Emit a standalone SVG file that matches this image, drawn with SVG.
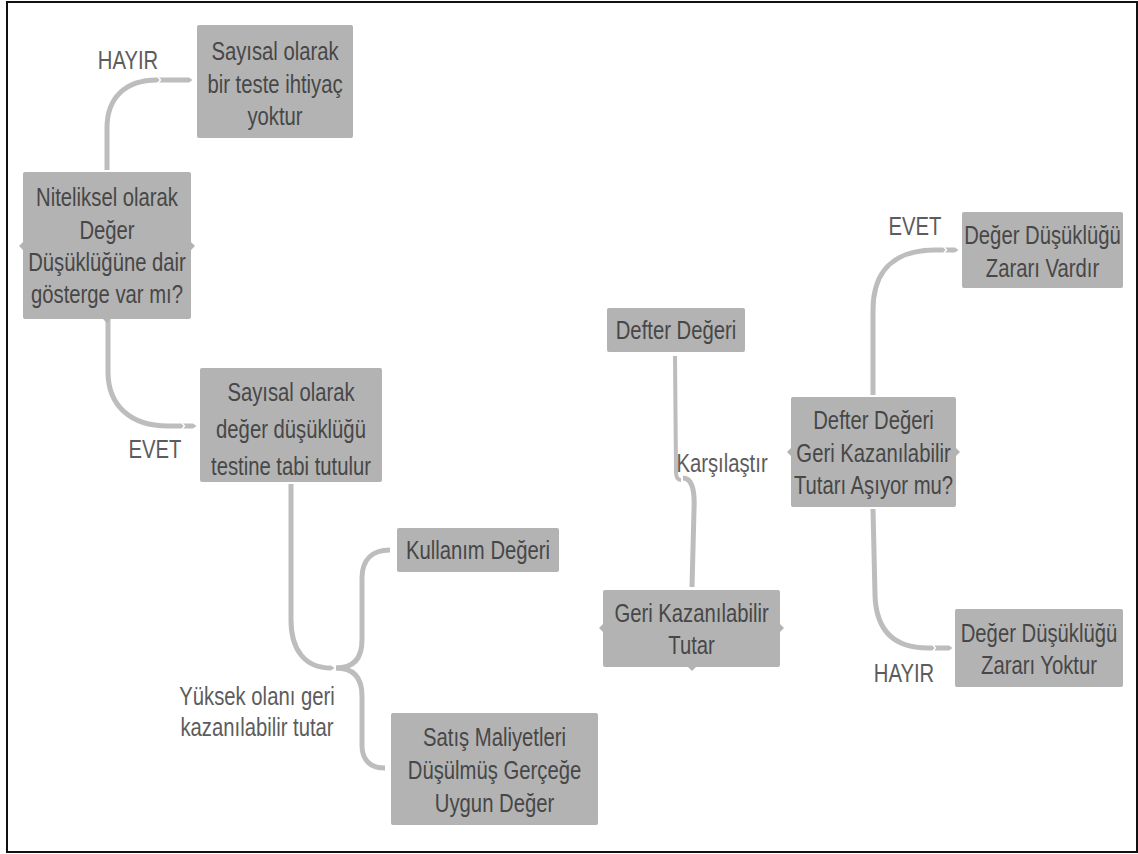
<svg xmlns="http://www.w3.org/2000/svg" width="1138" height="854" viewBox="0 0 1138 854">
<style>
.n{fill:#b3b3b3;}
.t,.l{font-family:"Liberation Sans",Arial,sans-serif;font-size:26px;text-anchor:middle;transform-box:fill-box;transform-origin:center;transform:scaleX(0.78);}
.t{fill:#474747;}
.l{fill:#5c5c5c;}
.c{fill:none;stroke:#bdbdbd;stroke-width:5;stroke-linecap:butt;}
.cv{fill:none;stroke:#ffffff;stroke-width:1.4;}
</style>
<defs>
<marker id="tip" markerUnits="userSpaceOnUse" markerWidth="10" markerHeight="10" refX="0" refY="0" orient="auto" overflow="visible">
<path d="M0,-2.5 L3.5,0 L0,2.5 Z" fill="#bdbdbd"/>
</marker>
<path id="chev" d="M-1.5,-3.5 L1.5,0 L-1.5,3.5" class="cv"/>
</defs>
<rect x="7" y="2" width="1130" height="850" fill="#ffffff" stroke="#111111" stroke-width="2"/>

<g id="connectors">
<path class="c" d="M107,170 L107,128 C107,98 125,80 157,80 L189,80" marker-end="url(#tip)"/>
<use href="#chev" x="159" y="80"/>
<path class="c" d="M108,320 L108,372 C108,405 130,426 168,426 L193,426" marker-end="url(#tip)"/>
<use href="#chev" x="183" y="426"/>
<path class="c" d="M291,484 L291,620 C291,650 305,668 331,668" marker-end="url(#tip)"/>
<path class="c" d="M336,668 C352,668 362,660 362,640 L362,578 C362,560 372,550 390,550"/>
<path class="c" d="M336,668 C352,668 362,676 362,696 L362,745 C362,760 370,768 385,768"/>
<path class="c" style="stroke-width:4" d="M675,356 L676,472 C676,478 678,480 681,480"/>
<path class="c" d="M692,587 L694,510 C695,490 692,478 683,478"/>
<path class="c" d="M873,395 L873,310 C873,272 893,250 935,250 L955,250" marker-end="url(#tip)"/>
<use href="#chev" x="945" y="250"/>
<path class="c" d="M873,509 L875,595 C876,630 893,648 928,648 L949,648" marker-end="url(#tip)"/>
<use href="#chev" x="934" y="648"/>
</g>

<g id="n1">
<rect class="n" x="197" y="25" width="156" height="113" rx="2"/>
<text class="t" x="275" y="60">Sayısal olarak</text>
<text class="t" x="275" y="93">bir teste ihtiyaç</text>
<text class="t" x="275" y="125">yoktur</text>
</g>

<g id="n2">
<rect class="n" x="23" y="172" width="168" height="147" rx="2"/>
<polygon class="n" points="23,242 19,246 23,250"/>
<polygon class="n" points="191,242 195,246 191,250"/>
<polygon class="n" points="103,319 107,323 111,319"/>
<text class="t" x="107" y="206">Niteliksel olarak</text>
<text class="t" x="107" y="239">Değer</text>
<text class="t" x="107" y="271">Düşüklüğüne dair</text>
<text class="t" x="107" y="303">gösterge var mı?</text>
</g>

<g id="n3">
<rect class="n" x="200" y="368" width="182" height="114" rx="2"/>
<text class="t" x="291" y="401">Sayısal olarak</text>
<text class="t" x="291" y="438">değer düşüklüğü</text>
<text class="t" x="291" y="475">testine tabi tutulur</text>
</g>

<g id="n4">
<rect class="n" x="397" y="528" width="162" height="44" rx="2"/>
<text class="t" x="478" y="559">Kullanım Değeri</text>
</g>

<g id="n5">
<rect class="n" x="391" y="713" width="207" height="112" rx="2"/>
<text class="t" x="494.5" y="746">Satış Maliyetleri</text>
<text class="t" x="494.5" y="779">Düşülmüş Gerçeğe</text>
<text class="t" x="494.5" y="812">Uygun Değer</text>
</g>

<g id="n6">
<rect class="n" x="607" y="308" width="138" height="44" rx="2"/>
<text class="t" x="676" y="339">Defter Değeri</text>
</g>

<g id="n7">
<rect class="n" x="603" y="590" width="177" height="77" rx="2"/>
<polygon class="n" points="603,624 599,628 603,632"/>
<polygon class="n" points="780,624 784,628 780,632"/>
<polygon class="n" points="688,667 692,671 696,667"/>
<text class="t" x="691.5" y="622">Geri Kazanılabilir</text>
<text class="t" x="691.5" y="654">Tutar</text>
</g>

<g id="n8">
<rect class="n" x="791" y="397" width="165" height="110" rx="2"/>
<polygon class="n" points="791,448 787,452 791,456"/>
<polygon class="n" points="956,448 960,452 956,456"/>
<text class="t" x="873.5" y="429">Defter Değeri</text>
<text class="t" x="873.5" y="462">Geri Kazanılabilir</text>
<text class="t" x="873.5" y="494">Tutarı Aşıyor mu?</text>
</g>

<g id="n9">
<rect class="n" x="962" y="212" width="161" height="76" rx="2"/>
<text class="t" x="1042.5" y="244">Değer Düşüklüğü</text>
<text class="t" x="1042.5" y="277">Zararı Vardır</text>
</g>

<g id="n10">
<rect class="n" x="955" y="609" width="168" height="78" rx="2"/>
<text class="t" x="1039" y="642">Değer Düşüklüğü</text>
<text class="t" x="1039" y="674">Zararı Yoktur</text>
</g>

<g id="labels">
<text class="l" x="128" y="69">HAYIR</text>
<text class="l" x="155" y="458">EVET</text>
<text class="l" x="257" y="705">Yüksek olanı geri</text>
<text class="l" x="257" y="736">kazanılabilir tutar</text>
<text class="l" x="722" y="472">Karşılaştır</text>
<text class="l" x="915" y="235">EVET</text>
<text class="l" x="904" y="682">HAYIR</text>
</g>
</svg>
